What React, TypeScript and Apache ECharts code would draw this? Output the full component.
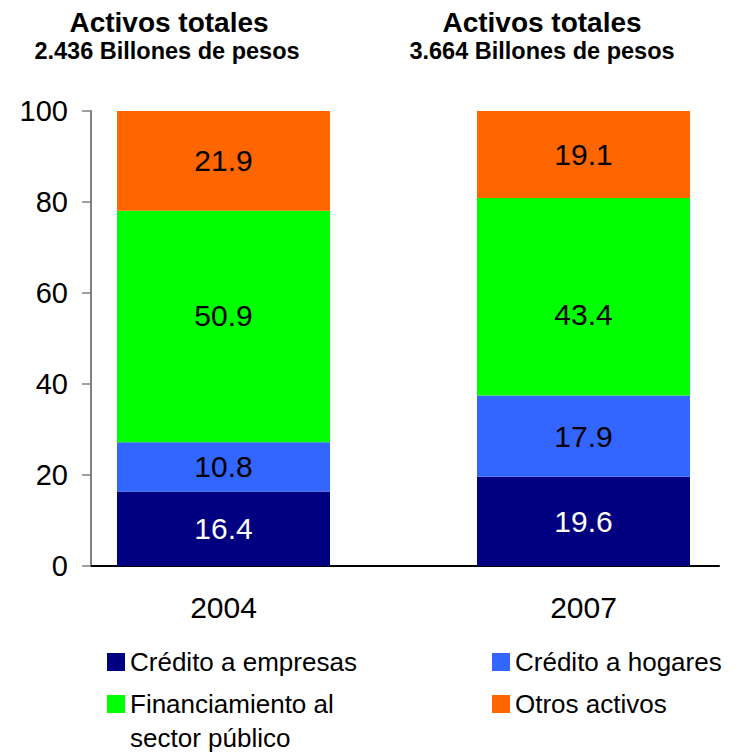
import React, { useEffect, useRef } from "react";
import * as echarts from "echarts";

const years = ["2004", "2007"];
const seriesNames = [
  "Crédito a empresas",
  "Crédito a hogares",
  "Financiamiento al sector público",
  "Otros activos",
];
const creditoEmpresas = [16.4, 19.6];
const creditoHogares = [10.8, 17.9];
const financiamientoPublico = [50.9, 43.4];
const otrosActivos = [21.9, 19.1];
const yTicks = [0, 20, 40, 60, 80, 100];
const titles = ["Activos totales", "Activos totales"];
const subtitles = ["2.436 Billones de pesos", "3.664 Billones de pesos"];

const COLORS = ["#000080", "#3366FF", "#00FF00", "#FF6600"];
const LABEL_COLORS = ["#FFFFFF", "#000000", "#000000", "#000000"];
const FONT = "'Liberation Sans', Arial, Helvetica, sans-serif";

export default function App() {
  const ref = useRef<HTMLDivElement>(null);

  useEffect(() => {
    if (!ref.current) return;
    const chart = echarts.init(ref.current, undefined, { renderer: "svg" });
    const values = [creditoEmpresas, creditoHogares, financiamientoPublico, otrosActivos];
    // label nudges for the green segments (visual placement as in reference)
    const greenOffsets = [[0, -11], [0, 18]];

    const series = values.map((vals, si) => ({
      name: seriesNames[si],
      type: "bar",
      stack: "total",
      xAxisIndex: 0,
      yAxisIndex: 0,
      barWidth: 213,
      itemStyle: { color: COLORS[si] },
      label: {
        show: true,
        position: "inside",
        color: LABEL_COLORS[si],
        fontSize: 30,
        fontFamily: FONT,
        formatter: (p: any) => Number(p.value).toFixed(1),
      },
      data: vals.map((v, i) =>
        si === 2 ? { value: v, label: { offset: greenOffsets[i] } } : v
      ),
    }));

    const legendBase = {
      orient: "vertical",
      top: 644,
      itemWidth: 18,
      itemHeight: 18,
      itemGap: 16,
      icon: "rect",
      selectedMode: false,
      textStyle: { fontSize: 26, lineHeight: 26, color: "#000", fontFamily: FONT },
      formatter: (name: string) =>
        name === "Financiamiento al sector público" ? "Financiamiento al" : name,
    };

    chart.setOption({
      animation: false,
      backgroundColor: "#FFFFFF",
      grid: [
        { left: 43.5, width: 720, top: 111, bottom: 186, outerBoundsMode: "none", containLabel: false },
        { left: 91, right: 31, top: 111, bottom: 186, outerBoundsMode: "none", containLabel: false },
      ],
      xAxis: [
        {
          type: "category",
          gridIndex: 0,
          data: years,
          axisLine: { show: false },
          axisTick: { show: false },
          axisLabel: { fontSize: 30, color: "#000", fontFamily: FONT, margin: 26 },
        },
        {
          type: "value",
          gridIndex: 1,
          min: 0,
          max: 1,
          axisLine: { show: true, lineStyle: { color: "#000", width: 2 } },
          axisTick: { show: false },
          axisLabel: { show: false },
          splitLine: { show: false },
        },
      ],
      yAxis: [
        { type: "value", gridIndex: 0, min: 0, max: 100, show: false },
        {
          type: "value",
          gridIndex: 1,
          min: yTicks[0],
          max: yTicks[yTicks.length - 1],
          interval: yTicks[1] - yTicks[0],
          axisLine: { show: true, lineStyle: { color: "#808080", width: 2 } },
          axisTick: { show: true, length: 9, lineStyle: { color: "#808080", width: 1.5 } },
          axisLabel: { fontSize: 29, color: "#000", fontFamily: FONT, margin: 23 },
          splitLine: { show: false },
        },
      ],
      legend: [
        { ...legendBase, left: 102, data: [seriesNames[0], seriesNames[2]] },
        { ...legendBase, left: 487, data: [seriesNames[1], seriesNames[3]] },
      ],
      graphic: [
        ...[169, 542].map((x, i) => ({
          type: "text",
          x,
          y: 22,
          style: {
            text: titles[i],
            font: `bold 28px ${FONT}`,
            fill: "#000",
            textAlign: "center",
            textVerticalAlign: "middle",
          },
        })),
        ...[167, 542].map((x, i) => ({
          type: "text",
          x,
          y: 51,
          style: {
            text: subtitles[i],
            font: `bold 23.5px ${FONT}`,
            fill: "#000",
            textAlign: "center",
            textVerticalAlign: "middle",
          },
        })),
        {
          type: "text",
          x: 130,
          y: 738,
          style: {
            text: "sector público",
            font: `26px ${FONT}`,
            fill: "#000",
            textAlign: "left",
            textVerticalAlign: "middle",
          },
        },
      ],
      series,
    });

    return () => chart.dispose();
  }, []);

  return (
    <div
      ref={ref}
      style={{ position: "absolute", left: 0, top: 0, width: 750, height: 752 }}
    />
  );
}
